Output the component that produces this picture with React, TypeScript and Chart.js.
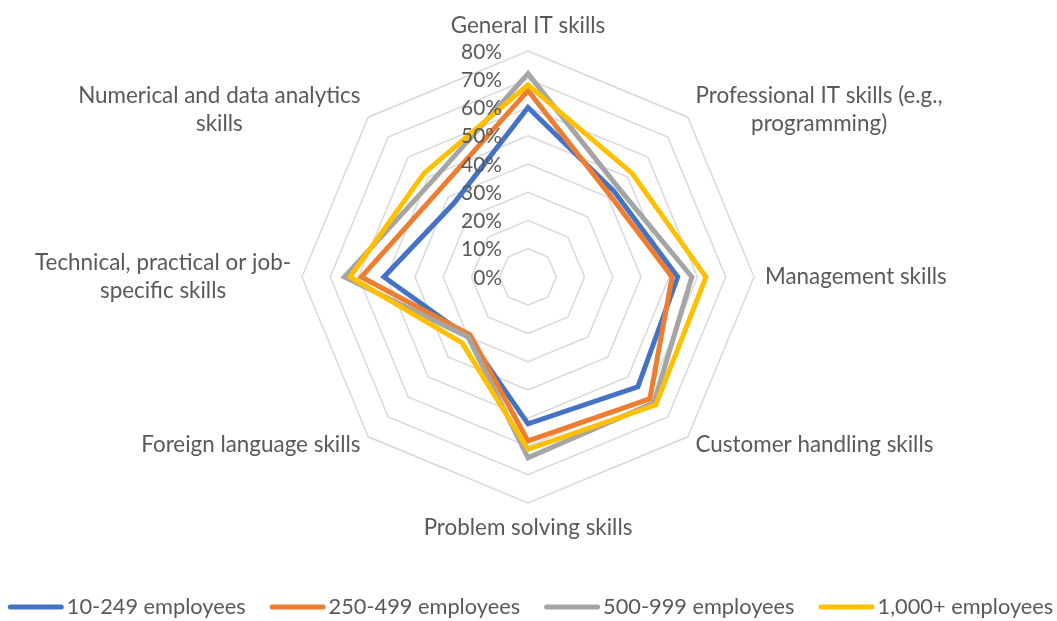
import React, { useEffect, useRef } from 'react';
import { Chart, registerables } from 'chart.js';

Chart.register(...registerables);

// ---------- data ----------
const categories: (string | string[])[] = [
  'General IT skills',
  ['Professional IT skills (e.g.,', 'programming)'],
  'Management skills',
  'Customer handling skills',
  'Problem solving skills',
  'Foreign language skills',
  ['Technical, practical or job-', 'specific skills'],
  ['Numerical and data analytics', 'skills'],
];

const seriesNames = ['10-249 employees', '250-499 employees', '500-999 employees', '1,000+ employees'];

const employees10to249 = [60, 43, 53, 55, 52, 30, 51, 37];
const employees250to499 = [66, 41, 51, 61, 58, 29, 59, 44];
const employees500to999 = [72, 45, 58, 63, 64, 30, 65, 48];
const employees1000plus = [68, 52, 63, 64, 61, 33, 63, 52];

const tickMin = 0;
const tickMax = 80;
const tickStep = 10;

// ---------- style ----------
const seriesColors = ['#4472C4', '#ED7D31', '#A5A5A5', '#FFC000'];
const TEXT_COLOR = '#595959';
const FONT_FAMILY = 'Lato, "Open Sans", "DejaVu Sans", sans-serif';
const GRID_COLOR = '#d9d9d9';
const W = 1057;
const H = 621;

function fitFontSize(ctx: CanvasRenderingContext2D, sample: string, target: number) {
  ctx.save();
  ctx.font = `100px ${FONT_FAMILY}`;
  const w = ctx.measureText(sample).width;
  ctx.restore();
  return Math.max(10, Math.min(30, (target / w) * 100));
}

const textPlugin = {
  id: 'excelText',
  afterDraw(chart: any) {
    const ctx: CanvasRenderingContext2D = chart.ctx;
    const scale = chart.scales.r;
    const R = scale.drawingArea;
    const xc = scale.xCenter;
    const yc = scale.yCenter;
    const fs = fitFontSize(ctx, 'Technical, practical or job-', 256);
    const tickFs = fitFontSize(ctx, '80%', 41);
    const legendFs = fitFontSize(ctx, '10-249 employees', 179);
    const lineH = 28;
    ctx.save();
    ctx.fillStyle = TEXT_COLOR;
    ctx.textBaseline = 'middle';

    // radial tick labels
    ctx.font = `${tickFs}px ${FONT_FAMILY}`;
    ctx.textAlign = 'right';
    scale.ticks.forEach((t: any) => {
      const d = scale.getDistanceFromCenterForValue(t.value);
      ctx.fillText(`${t.value}%`, xc - 26, yc - d + 1);
    });

    // point labels
    ctx.font = `${fs}px ${FONT_FAMILY}`;
    (chart.data.labels as (string | string[])[]).forEach((lab, i) => {
      const lines = Array.isArray(lab) ? lab : [lab];
      const p = scale.getPointPosition(i, R + 11);
      const boxW = Math.max(...lines.map((l) => ctx.measureText(l).width));
      const boxH = lines.length * lineH;
      const dx = p.x - xc;
      const dy = p.y - yc;
      let cx: number;
      let top: number;
      if (Math.abs(dx) < 1) {
        cx = p.x;
        top = dy < 0 ? p.y - boxH : p.y;
      } else {
        cx = dx > 0 ? p.x + boxW / 2 : p.x - boxW / 2;
        top = p.y - boxH / 2;
      }
      ctx.textAlign = 'center';
      lines.forEach((l, k) => ctx.fillText(l, cx, top + lineH * (k + 0.5)));
    });

    // legend
    ctx.font = `${legendFs}px ${FONT_FAMILY}`;
    const lineLen = 56;
    const gapText = 3;
    const gapItem = 24;
    const items = chart.data.datasets.map((ds: any) => ({
      text: ds.label as string,
      color: ds.borderColor as string,
      w: ctx.measureText(ds.label).width,
    }));
    const total =
      items.reduce((s: number, it: any) => s + lineLen + gapText + it.w, 0) + gapItem * (items.length - 1);
    let x = chart.width / 2 - total / 2 + 2;
    const ly = 607;
    items.forEach((it: any) => {
      ctx.strokeStyle = it.color;
      ctx.lineWidth = 5;
      ctx.lineCap = 'round';
      ctx.beginPath();
      ctx.moveTo(x + 2.5, ly);
      ctx.lineTo(x + lineLen - 2.5, ly);
      ctx.stroke();
      x += lineLen + gapText;
      ctx.textAlign = 'left';
      ctx.fillText(it.text, x, ly);
      x += it.w + gapItem;
    });
    ctx.restore();
  },
};

export default function App() {
  const ref = useRef<HTMLCanvasElement | null>(null);

  useEffect(() => {
    if (!ref.current) return;
    const series = [employees10to249, employees250to499, employees500to999, employees1000plus];
    const chart = new Chart(ref.current, {
      type: 'radar',
      data: {
        labels: categories as any,
        datasets: series.map((values, i) => ({
          label: seriesNames[i],
          data: values,
          borderColor: seriesColors[i],
          backgroundColor: seriesColors[i],
          borderWidth: 5,
          borderJoinStyle: 'miter' as const,
          borderCapStyle: 'round' as const,
          pointRadius: 0,
          pointHoverRadius: 0,
          fill: false,
          order: series.length - i,
        })),
      },
      options: {
        responsive: false,
        maintainAspectRatio: false,
        animation: false,
        devicePixelRatio: 1,
        layout: { padding: { top: 51, bottom: 118, left: 0, right: 0 } },
        plugins: {
          legend: { display: false },
          tooltip: { enabled: false },
        },
        scales: {
          r: {
            min: tickMin,
            max: tickMax,
            ticks: { stepSize: tickStep, display: false },
            grid: { circular: false, color: GRID_COLOR, lineWidth: 1.5 },
            angleLines: { display: false },
            pointLabels: { display: false },
          },
        },
      },
      plugins: [textPlugin],
    });
    return () => chart.destroy();
  }, []);

  return (
    <div style={{ position: 'fixed', left: 0, top: 0, width: W, height: H, background: '#fff' }}>
      <canvas ref={ref} width={W} height={H} style={{ width: W, height: H, display: 'block' }} />
    </div>
  );
}
